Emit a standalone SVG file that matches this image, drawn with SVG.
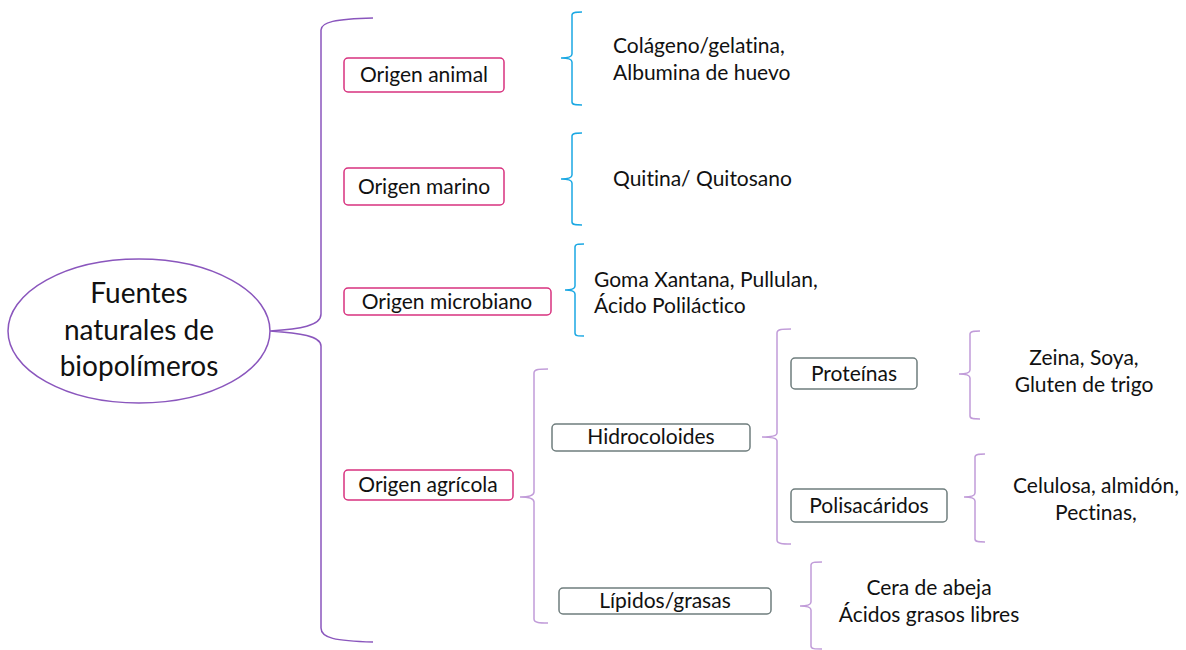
<svg xmlns="http://www.w3.org/2000/svg" width="1186" height="650" viewBox="0 0 1186 650">
<style>
text{font-family:Lato,"Open Sans",sans-serif;fill:#111;font-size:21px;font-variant-ligatures:none;font-feature-settings:"liga" 0}
.pk{fill:#fff;stroke:#d8327f;stroke-width:1.5}
.gr{fill:#fff;stroke:#6f7d7d;stroke-width:1.5}
.bl{fill:none;stroke:#1ba8e3;stroke-width:1.5}
.pu{fill:none;stroke:#8a56bd;stroke-width:1.5}
.lp{fill:none;stroke:#c19cd9;stroke-width:1.5}
.c{text-anchor:middle}
</style>
<rect width="1186" height="650" fill="#fff"/>
<g id="connectors">
<path class="pu" d="M373,18 C335,19 321,22 321,30 L321,314 C321,326 300,329 270,331 C300,333 321,336 321,346 L321,628 C321,638 335,641 373,642"/>
<path class="bl" d="M582,12 C576,12 572,12 572,15 L572,54 C572,57 568,58 561,58 C568,58 572,59 572,62 L572,102 C572,105 576,105 582,105"/>
<path class="bl" d="M582,133 C576,133 572,133 572,136 L572,175 C572,178 568,179 561,179 C568,179 572,180 572,183 L572,222 C572,225 576,225 582,225"/>
<path class="bl" d="M584,244 C578,244 575,244 575,247 L575,286 C575,289 571,290 565,290 C571,290 575,291 575,294 L575,333 C575,336 578,336 584,336"/>
<path class="lp" d="M548,369 C540,369 534,369 534,373 L534,492 C534,496 528,497 520,497 C528,497 534,498 534,502 L534,619 C534,623 540,623 548,623"/>
<path class="lp" d="M791,329 C783,329 777,329 777,333 L777,433 C777,436 771,437 762,437 C771,437 777,438 777,441 L777,540 C777,544 783,544 791,544"/>
<path class="lp" d="M980,331 C974,331 970,331 970,334 L970,370 C970,373 966,374 959,374 C966,374 970,375 970,378 L970,416 C970,419 974,419 980,419"/>
<path class="lp" d="M985,454 C979,454 975,454 975,457 L975,493 C975,496 971,497 964,497 C971,497 975,498 975,501 L975,539 C975,542 979,542 985,542"/>
<path class="lp" d="M822,562 C815,562 811,562 811,565 L811,602 C811,605 807,606 800,606 C807,606 811,607 811,610 L811,646 C811,649 815,649 822,649"/>
</g>
<g id="root">
<ellipse cx="139" cy="331" rx="131" ry="72" fill="#fff" stroke="#8a56bd" stroke-width="1.5"/>
<text class="c" x="139" y="303" style="font-size:28px">Fuentes</text>
<text class="c" x="139" y="340" style="font-size:28px">naturales de</text>
<text class="c" x="139" y="376" style="font-size:28px">biopolímeros</text>
</g>
<g id="n-animal"><rect class="pk" x="344" y="58" width="160" height="34" rx="4"/><text class="c" x="424" y="82">Origen animal</text></g>
<g id="n-marino"><rect class="pk" x="344" y="168" width="160" height="37" rx="4"/><text class="c" x="424" y="194">Origen marino</text></g>
<g id="n-microbiano"><rect class="pk" x="344" y="288" width="207" height="27" rx="4"/><text class="c" x="447" y="309">Origen microbiano</text></g>
<g id="n-agricola"><rect class="pk" x="344" y="470" width="169" height="30" rx="4"/><text class="c" x="428" y="492">Origen agrícola</text></g>
<g id="t-animal"><text x="613" y="53">Colágeno/gelatina,</text><text x="613" y="80">Albumina de huevo</text></g>
<g id="t-marino"><text x="613" y="186">Quitina/ Quitosano</text></g>
<g id="t-microbiano"><text x="594" y="287">Goma Xantana, Pullulan,</text><text x="594" y="313">Ácido Poliláctico</text></g>
<g id="n-hidro"><rect class="gr" x="552" y="424" width="198" height="27" rx="4"/><text class="c" x="651" y="444">Hidrocoloides</text></g>
<g id="n-lipidos"><rect class="gr" x="559" y="588" width="212" height="26" rx="4"/><text class="c" x="665" y="608">Lípidos/grasas</text></g>
<g id="n-proteinas"><rect class="gr" x="791" y="358" width="126" height="31" rx="4"/><text class="c" x="854" y="381">Proteínas</text></g>
<g id="n-polisac"><rect class="gr" x="791" y="489" width="156" height="33" rx="4"/><text class="c" x="869" y="513">Polisacáridos</text></g>
<g id="t-proteinas"><text class="c" x="1084" y="365">Zeina, Soya,</text><text class="c" x="1084" y="392">Gluten de trigo</text></g>
<g id="t-polisac"><text class="c" x="1096" y="493">Celulosa, almidón,</text><text class="c" x="1096" y="520">Pectinas,</text></g>
<g id="t-lipidos"><text class="c" x="929" y="595">Cera de abeja</text><text class="c" x="929" y="622">Ácidos grasos libres</text></g>
</svg>
